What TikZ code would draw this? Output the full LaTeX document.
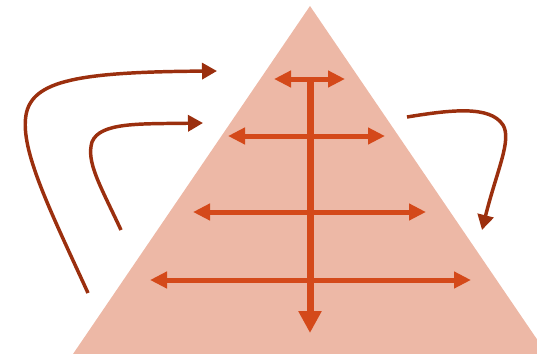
\documentclass[tikz,border=0pt]{standalone}
\usetikzlibrary{arrows.meta}
\definecolor{pyr}{RGB}{237,184,166}
\definecolor{axis}{RGB}{212,73,26}
\definecolor{flow}{RGB}{155,47,14}
\tikzset{
  harrow/.style={draw=axis, line width=3.75pt, {Triangle[length=12.75pt,width=12pt]}-{Triangle[length=12.75pt,width=12pt]}},
  varrow/.style={draw=axis, line width=5.25pt, -{Triangle[length=16.5pt,width=16.5pt]}},
  flowarrow/.style={draw=flow, line width=2.6pt, -{Triangle[length=11.25pt,width=12pt]}}
}
\begin{document}
\begin{tikzpicture}[x=0.75pt,y=-0.75pt]
\useasboundingbox (0,0) rectangle (537,354);
\clip (0,0) rectangle (537,354);
% pyramid
\coordinate (apex) at (310,6);
\coordinate (bl) at (73,354);
\coordinate (br) at (547,354);
\fill[pyr] (apex) -- (br) -- (bl) -- cycle;
% vertical axis
\coordinate (vtop) at (310,77);
\coordinate (vbot) at (310,333);
\draw[varrow] (vtop) -- (vbot);
% horizontal arrows
\coordinate (h1l) at (274,79); \coordinate (h1r) at (345,79);
\coordinate (h2l) at (228,136); \coordinate (h2r) at (385,136);
\coordinate (h3l) at (193,212); \coordinate (h3r) at (426,212);
\coordinate (h4l) at (150,280); \coordinate (h4r) at (471,280);
\draw[harrow] (h1l) -- (h1r);
\draw[harrow] (h2l) -- (h2r);
\draw[harrow] (h3l) -- (h3r);
\draw[harrow] (h4l) -- (h4r);
% curved arrows
\coordinate (a0) at (88,293); \coordinate (a1) at (217,71);
\coordinate (b0) at (121,230); \coordinate (b1) at (203,123);
\coordinate (c0) at (407,117); \coordinate (c1) at (482,230);
\draw[flowarrow] (a0) .. controls (50,210) and (20,150) .. (26,115)
  .. controls (32,80) and (80,72) .. (a1);
\draw[flowarrow] (b0) .. controls (100,185) and (86,162) .. (92,142)
  .. controls (100,122) and (140,124) .. (b1);
\draw[flowarrow] (c0) .. controls (450,110) and (490,105) .. (503,125)
  .. controls (512,140) and (497,170) .. (c1);
\end{tikzpicture}
\end{document}
